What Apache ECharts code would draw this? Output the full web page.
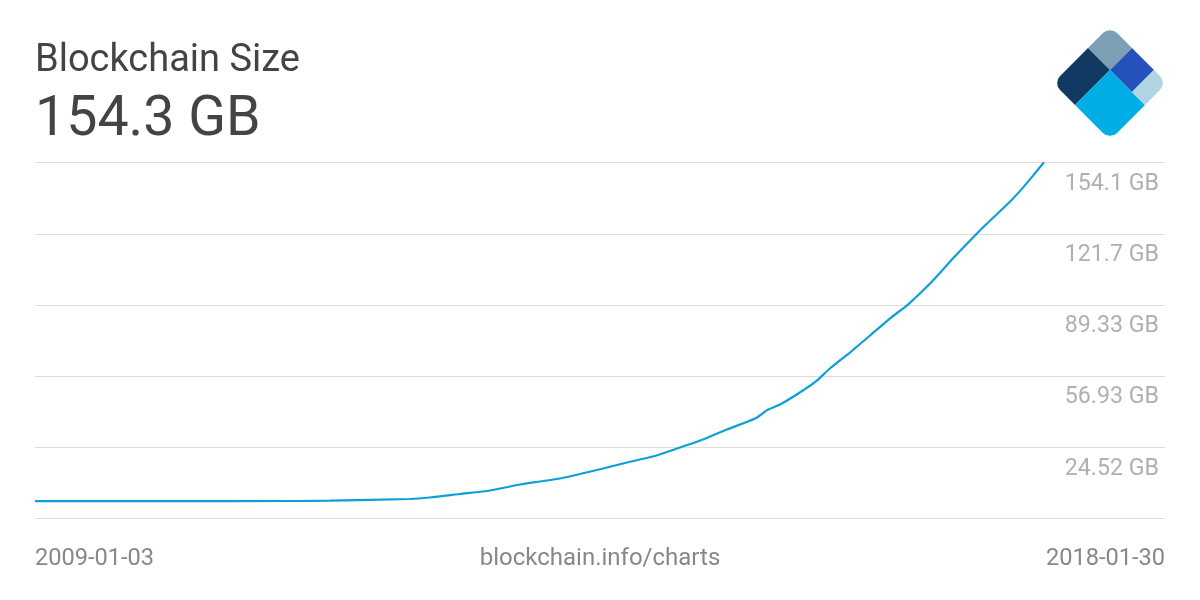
<!DOCTYPE html>
<html>
<head>
<meta charset="utf-8">
<style>html,body{margin:0;padding:0;background:#fff}#c{width:1200px;height:600px}</style>
<script src="https://cdn.jsdelivr.net/npm/echarts@6/dist/echarts.min.js"></script>
</head>
<body>
<div id="c"></div>
<script>
const chartTitle = 'Blockchain Size';
const headline = '154.3 GB';
const sourceText = 'blockchain.info/charts';
const dateStart = '2009-01-03';
const dateEnd = '2018-01-30';
const axisMin = -7.89;
const tickValues = [-7.89, 24.52, 56.93, 89.33, 121.7, 154.1];
const tickLabels = ['', '24.52 GB', '56.93 GB', '89.33 GB', '121.7 GB', '154.1 GB'];
const dates = ['2009-01-03','2010-01-03','2011-02-07','2011-05-18','2012-01-08','2012-03-06','2012-06-02','2012-08-30','2012-11-26','2013-01-23','2013-03-23','2013-05-20','2013-07-27','2013-10-05','2013-12-20','2014-03-01','2014-05-16','2014-07-25','2014-10-16','2014-11-23','2014-12-28','2015-02-24','2015-04-15','2015-05-23','2015-07-21','2015-09-18','2015-11-15','2016-01-07','2016-03-12','2016-05-18','2016-07-16','2016-08-26','2016-10-27','2016-12-07','2017-01-08','2017-02-09'];
const sizes = [0,0.01,0.08,0.21,0.99,1.67,3.26,4.86,7.59,8.95,10.32,12.37,14.87,17.6,20.33,23.97,28.07,32.62,37.63,41.73,44.0,49.47,54.9,60.39,67.67,75.41,83.15,89.52,99.08,110.46,120.01,126.4,135.5,142.3,148.2,154.3];

const chart = echarts.init(document.getElementById('c'), null, {renderer:'canvas'});
const font = 'Roboto';
const xMin = Date.parse(dateStart);
const xMax = Date.parse(dateEnd);
const logoPieces = [
  {x:-40.3,y:-40.3,width:31.1,height:31.1,r:[10,0,0,0],fill:'#7b9fb5'},
  {x:-40.3,y:-9.2,width:31.1,height:49.5,r:[0,0,0,10],fill:'#123962'},
  {x:-9.2,y:-9.2,width:49.5,height:49.5,r:[0,0,10,0],fill:'#00aee6'},
  {x:-9.2,y:-40.3,width:31.1,height:31.1,r:0,fill:'#2451ba'},
  {x:21.9,y:-40.3,width:18.4,height:31.1,r:[0,10,0,0],fill:'#b1d4e5'}
];
chart.setOption({
  animation:false,
  backgroundColor:'#fff',
  textStyle:{fontFamily:font},
  grid:{left:35,right:35,top:162.7,bottom:81.5,containLabel:false},
  xAxis:{
    type:'value',
    min:xMin,max:xMax,
    axisLine:{show:false},axisTick:{show:false,customValues:[xMin,xMax]},splitLine:{show:false},
    axisLabel:{
      customValues:[xMin,xMax],
      formatter:(v)=> echarts.time.format(v,'{yyyy}-{MM}-{dd}',true),
      color:'#888',fontSize:23.6,fontFamily:font,margin:29,
      alignMinLabel:'left',alignMaxLabel:'right',hideOverlap:false
    }
  },
  yAxis:{
    type:'value',position:'right',
    min:axisMin,max:154.1,
    axisLine:{show:false},
    axisTick:{show:false,customValues:tickValues},
    splitLine:{show:true,lineStyle:{color:'#ddd',width:1}},
    axisLabel:{
      inside:true,customValues:tickValues,margin:6,
      formatter:(v)=>{const i=tickValues.indexOf(v);return i>=0?tickLabels[i]:'';},
      color:'#b0b0b0',fontSize:23.2,fontFamily:font,
      verticalAlign:'top',padding:[10,0,0,0],align:'right'
    }
  },
  series:[{
    type:'line',showSymbol:false,smooth:0.2,
    data:dates.map((d,i)=>[Date.parse(d),sizes[i]]),
    lineStyle:{color:'#0f9fd8',width:2.2},
    itemStyle:{color:'#0f9fd8'}
  }],
  graphic:[
    {type:'text',left:35,top:42,style:{text:chartTitle,fill:'#444',font:'38px '+font}},
    {type:'text',left:35,top:93,style:{text:headline,fill:'#444',font:'55.5px '+font}},
    {type:'text',x:600,y:559,style:{text:sourceText,fill:'#888',font:'24px '+font,align:'center',verticalAlign:'middle'}},
    {type:'group',x:1110,y:83,rotation:-Math.PI/4,
     children:logoPieces.map(p=>({type:'rect',shape:{x:p.x,y:p.y,width:p.width,height:p.height,r:p.r},style:{fill:p.fill}}))}
  ]
});
</script>
</body>
</html>
